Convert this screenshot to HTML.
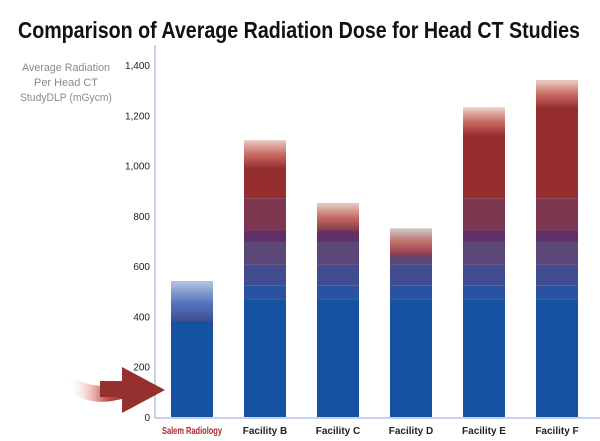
<!DOCTYPE html>
<html><head><meta charset="utf-8"><style>
body{margin:0;background:#fff;}
svg{display:block;font-family:"Liberation Sans",sans-serif;}
</style></head><body>
<svg width="600" height="441" viewBox="0 0 600 441">
<defs>
<linearGradient id="tail" x1="0" x2="1" y1="0" y2="0">
<stop offset="0" stop-color="#ffffff" stop-opacity="0"/>
<stop offset="0.45" stop-color="#e8b0a8"/>
<stop offset="0.7" stop-color="#c0504a"/>
<stop offset="1" stop-color="#95302e"/>
</linearGradient>
</defs>
<text x="18" y="38" font-size="23" font-weight="bold" fill="#111" textLength="562" lengthAdjust="spacingAndGlyphs">Comparison of Average Radiation Dose for Head CT Studies</text>
<g fill="#8a8a8a" font-size="11" text-anchor="middle">
<text x="66" y="71" textLength="88" lengthAdjust="spacingAndGlyphs">Average Radiation</text>
<text x="66" y="86" textLength="64" lengthAdjust="spacingAndGlyphs">Per Head CT</text>
<text x="66" y="101" textLength="92" lengthAdjust="spacingAndGlyphs">StudyDLP (mGycm)</text>
</g>
<g id="ticks"></g>
<g id="bars"></g>
<line x1="155" y1="45" x2="155" y2="418" stroke="#8fa2d8" stroke-width="1"/>
<line x1="155" y1="418" x2="600" y2="418" stroke="#8fa2d8" stroke-width="1"/>
<g>
<path d="M68,375 Q95,392 125,383 L125,398 Q92,408 72,392 Z" fill="url(#tail)"/>
<path d="M122,367 L165,390 L122,413 Z" fill="#95302e"/>
<rect x="100" y="381" width="24" height="16" fill="#95302e"/>
</g>
<g id="xlabels"></g>
</svg>
<script>
const categories=["Salem Radiology","Facility B","Facility C","Facility D","Facility E","Facility F"];
const values=[540,1100,850,750,1230,1340];
const tickValues=[0,200,400,600,800,1000,1200,1400];
const tickLabels=["0","200","400","600","800","1,000","1,200","1,400"];
const bandTops=[467,522,606,698,742,870,2000];
const bandColors=["#1652a2","#2a52a0","#414d8e","#5b4878","#5f2f68","#7d3650","#962e30"];
const capColors=["#b8c4e4","#e8c8c4","#e6cfc8","#cccccc","#ecd0c8","#ecd0c8"];
const NS="http://www.w3.org/2000/svg";
function y(v){return 417-v*(352/1400);}
function x(i){return 171+i*73;}
const bw=42;
const tg=document.getElementById('ticks');
tickValues.forEach((v,i)=>{const t=document.createElementNS(NS,'text');
t.setAttribute('x',150);t.setAttribute('y',y(v)+4);t.setAttribute('text-anchor','end');
t.setAttribute('font-size','10');t.setAttribute('fill','#222');t.textContent=tickLabels[i];


tg.appendChild(t);});
const bg=document.getElementById('bars');
const defs=document.querySelector('defs');
values.forEach((v,i)=>{
 const g=document.createElementNS(NS,'g');
 
 
 let lo=0,topColor=bandColors[0];
 for(let b=0;b<bandTops.length;b++){const hi=Math.min(bandTops[b],v);if(hi<=lo)break;
  const r=document.createElementNS(NS,'rect');r.setAttribute('x',x(i));r.setAttribute('width',bw);
  r.setAttribute('y',y(hi));r.setAttribute('height',y(lo)-y(hi));r.setAttribute('fill',bandColors[b]);
  g.appendChild(r);topColor=bandColors[b];lo=hi;}
 const gid='cap'+i;const lg=document.createElementNS(NS,'linearGradient');
 lg.setAttribute('id',gid);lg.setAttribute('x1','0');lg.setAttribute('x2','0');lg.setAttribute('y1','1');lg.setAttribute('y2','0');
 [[0,topColor,1],[0.45,i===0?'#5a78c0':'#c86a60',0.9],[1,capColors[i],1]].forEach(s=>{const st=document.createElementNS(NS,'stop');
 st.setAttribute('offset',s[0]);st.setAttribute('stop-color',s[1]);st.setAttribute('stop-opacity',s[2]);lg.appendChild(st);});
 defs.appendChild(lg);
 const ch=i===0?40:28;
 const c=document.createElementNS(NS,'rect');c.setAttribute('x',x(i));c.setAttribute('width',bw);
 c.setAttribute('y',y(v));c.setAttribute('height',ch);c.setAttribute('fill','url(#'+gid+')');
 g.appendChild(c);
 bg.appendChild(g);
 const l=document.createElementNS(NS,'text');l.setAttribute('x',x(i)+bw/2);l.setAttribute('y',434);
 l.setAttribute('text-anchor','middle');l.setAttribute('font-size','10');l.setAttribute('font-weight','bold');
 l.setAttribute('fill',i===0?'#a8282c':'#222');l.textContent=categories[i];
 if(i===0){l.setAttribute('textLength','60');l.setAttribute('lengthAdjust','spacingAndGlyphs');}
 
 
 document.getElementById('xlabels').appendChild(l);
});
</script>
</body></html>
